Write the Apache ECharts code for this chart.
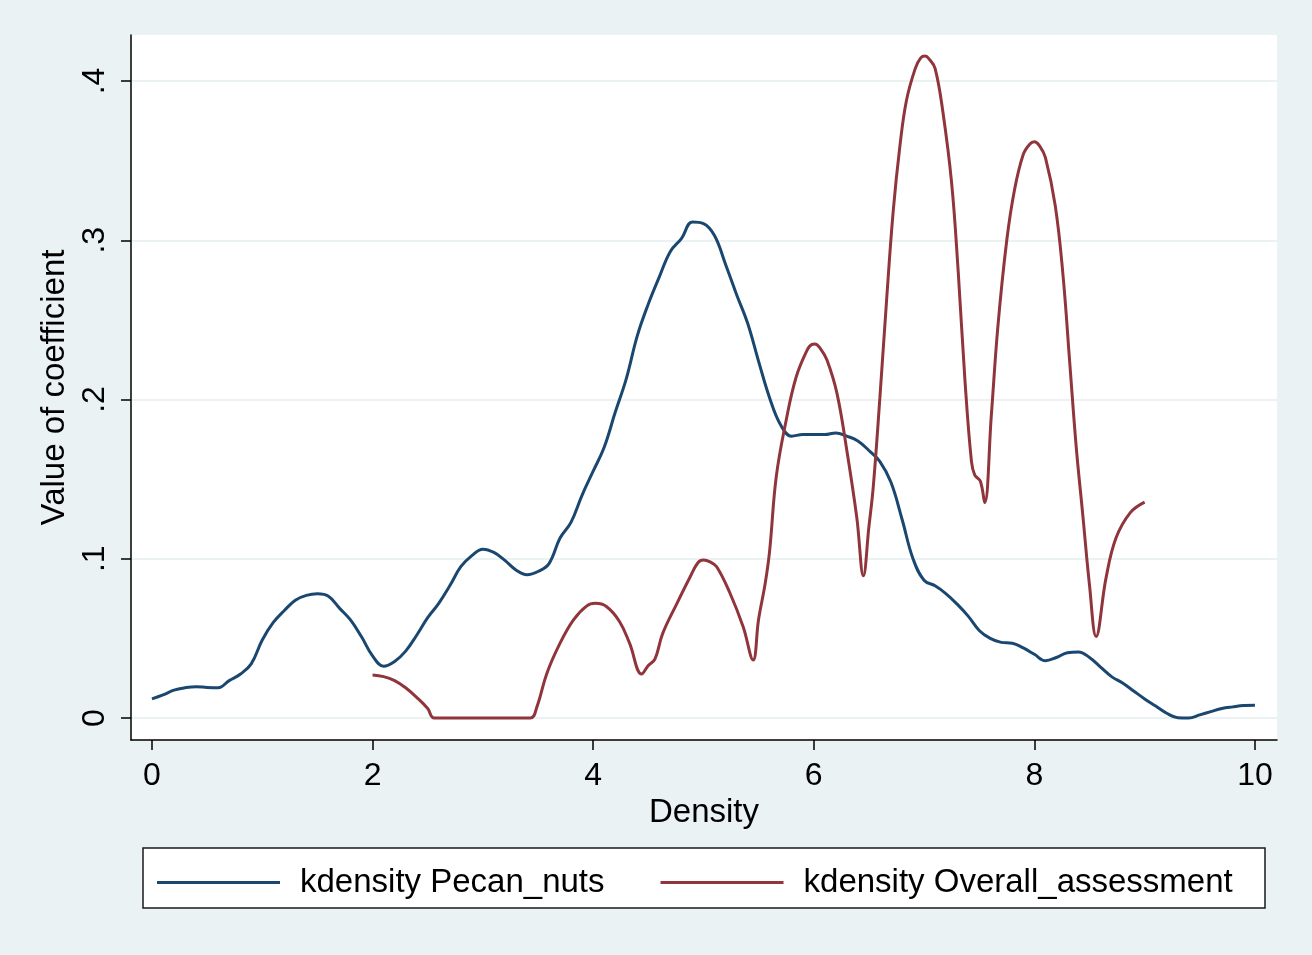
<!DOCTYPE html>
<html>
<head>
<meta charset="utf-8">
<script src="https://cdn.jsdelivr.net/npm/echarts@6/dist/echarts.min.js"></script>
<style>
html,body{margin:0;padding:0;background:#EAF2F3;}
#c{width:1312px;height:955px;}
</style>
</head>
<body>
<div id="c"></div>
<script>
// Pecan_nuts density, evaluated at x = 0, 0.1, ..., 10
var pecanX = [0,0.1,0.2,0.3,0.4,0.5,0.6,0.7,0.8,0.9,1.0,1.1,1.2,1.3,1.4,1.5,1.6,1.7,1.8,1.9,2.0,2.1,2.2,2.3,2.4,2.5,2.6,2.7,2.8,2.9,3.0,3.1,3.2,3.3,3.4,3.5,3.6,3.7,3.8,3.9,4.0,4.1,4.2,4.3,4.4,4.5,4.6,4.7,4.8,4.9,5.0,5.1,5.2,5.3,5.4,5.5,5.6,5.7,5.8,5.9,6.0,6.1,6.2,6.3,6.4,6.5,6.6,6.7,6.8,6.9,7.0,7.1,7.2,7.3,7.4,7.5,7.6,7.7,7.8,7.9,8.0,8.1,8.2,8.3,8.4,8.5,8.6,8.7,8.8,8.9,9.0,9.1,9.2,9.3,9.4,9.5,9.6,9.7,9.8,9.9,10.0];
var pecanY = [0.012,0.0145,0.0175,0.019,0.0197,0.0192,0.019,0.0235,0.0275,0.034,0.049,0.060,0.0675,0.074,0.077,0.078,0.0765,0.069,0.0616,0.051,0.039,0.0325,0.0355,0.042,0.052,0.063,0.072,0.083,0.095,0.102,0.106,0.104,0.099,0.093,0.090,0.092,0.097,0.113,0.123,0.140,0.155,0.170,0.192,0.213,0.240,0.260,0.277,0.293,0.301,0.3115,0.3105,0.303,0.285,0.266,0.248,0.224,0.201,0.184,0.177,0.178,0.178,0.178,0.179,0.177,0.174,0.168,0.161,0.148,0.125,0.100,0.0865,0.083,0.078,0.0715,0.064,0.055,0.050,0.0475,0.047,0.044,0.040,0.036,0.038,0.041,0.0415,0.038,0.032,0.026,0.022,0.017,0.012,0.0075,0.003,0.0002,0,0.002,0.004,0.006,0.007,0.0078,0.008];

// Overall_assessment density
var overallX = [2.0,2.1,2.2,2.3,2.4,2.5,2.56,3.43,3.49,3.58,3.7,3.82,3.94,4.02,4.12,4.24,4.33,4.44,4.5,4.56,4.63,4.76,4.88,4.95,5.0,5.06,5.12,5.24,5.36,5.45,5.5,5.56,5.6,5.66,5.75,5.84,5.94,5.98,6.01,6.06,6.12,6.21,6.3,6.39,6.45,6.5,6.54,6.6,6.66,6.72,6.78,6.84,6.92,6.97,7.01,7.05,7.1,7.17,7.25,7.31,7.37,7.43,7.46,7.51,7.55,7.61,7.67,7.75,7.82,7.9,7.96,8.0,8.05,8.1,8.19,8.26,8.32,8.38,8.44,8.5,8.56,8.65,8.74,8.87,9.0];
var overallY = [0.027,0.026,0.0235,0.019,0.013,0.006,0,0,0.007,0.028,0.047,0.0615,0.0703,0.072,0.070,0.0605,0.047,0.0276,0.033,0.037,0.053,0.072,0.0887,0.0975,0.0992,0.098,0.095,0.0785,0.0573,0.0364,0.062,0.0846,0.105,0.1515,0.187,0.214,0.231,0.2345,0.2348,0.232,0.2248,0.204,0.168,0.126,0.0893,0.12,0.1454,0.2015,0.262,0.318,0.3585,0.3876,0.4078,0.4145,0.4157,0.4135,0.408,0.381,0.336,0.28,0.213,0.161,0.1526,0.1488,0.1353,0.19,0.2463,0.30,0.3316,0.354,0.3605,0.3618,0.359,0.352,0.3215,0.278,0.224,0.17,0.127,0.0835,0.0512,0.088,0.113,0.129,0.1356];

var xTicks = [0,2,4,6,8,10];
var yTicks = [0,0.1,0.2,0.3,0.4];
var seriesNames = ['kdensity Pecan_nuts','kdensity Overall_assessment'];

function zip(a,b){var r=[];for(var i=0;i<a.length;i++){r.push([a[i],b[i]]);}return r;}

var font = '"Liberation Sans", Arial, Helvetica, sans-serif';
var chart = echarts.init(document.getElementById('c'));
chart.setOption({
  backgroundColor:'#EAF2F3',
  animation:false,
  textStyle:{fontFamily:font},
  grid:{left:131,right:35,top:35,bottom:215,show:true,backgroundColor:'#ffffff',borderWidth:0},
  graphic:[{type:'rect',shape:{x:143,y:848,width:1122,height:60},style:{fill:'#ffffff',stroke:'#1a1a1a',lineWidth:1.5},z:-1}],
  legend:{
    data:seriesNames,
    left:152, top:861,
    itemWidth:123, itemHeight:3, itemGap:56,
    icon:'rect',
    textStyle:{fontSize:33,color:'#000',fontFamily:font,padding:[0,0,0,15]}
  },
  xAxis:{
    type:'value', min:-0.19, max:10.2,
    name:'Density', nameLocation:'middle', nameGap:56,
    nameTextStyle:{fontSize:33,color:'#000',fontFamily:font},
    axisLine:{show:true,onZero:false,lineStyle:{color:'#000',width:1.5}},
    axisTick:{show:true,length:10,lineStyle:{color:'#000',width:1.5},customValues:xTicks},
    axisLabel:{fontSize:32,color:'#000',margin:20,customValues:xTicks,fontFamily:font},
    splitLine:{show:false}
  },
  yAxis:{
    type:'value', min:-0.0138, max:0.4289,
    name:'Value of coefficient', nameLocation:'middle', nameGap:60,
    nameTextStyle:{fontSize:33,color:'#000',fontFamily:font},
    axisLine:{show:true,onZero:false,lineStyle:{color:'#000',width:1.5}},
    axisTick:{show:true,length:10,lineStyle:{color:'#000',width:1.5},customValues:yTicks},
    axisLabel:{fontSize:32,color:'#000',margin:20,rotate:90,customValues:yTicks,fontFamily:font,
      formatter:function(v){ if(Math.abs(v)<1e-9) return '0'; return String(Math.round(v*10)/10).replace(/^0\./,'.'); }},
    splitLine:{show:true,lineStyle:{color:'#EAF2F3',width:2}}
  },
  series:[
    {name:seriesNames[0],type:'line',data:zip(pecanX,pecanY),showSymbol:false,symbol:'none',smooth:0.4,
      lineStyle:{color:'#1A476F',width:3},itemStyle:{color:'#1A476F'}},
    {name:seriesNames[1],type:'line',data:zip(overallX,overallY),showSymbol:false,symbol:'none',smooth:0.4,
      lineStyle:{color:'#90353B',width:3},itemStyle:{color:'#90353B'}}
  ]
});
</script>
</body>
</html>
